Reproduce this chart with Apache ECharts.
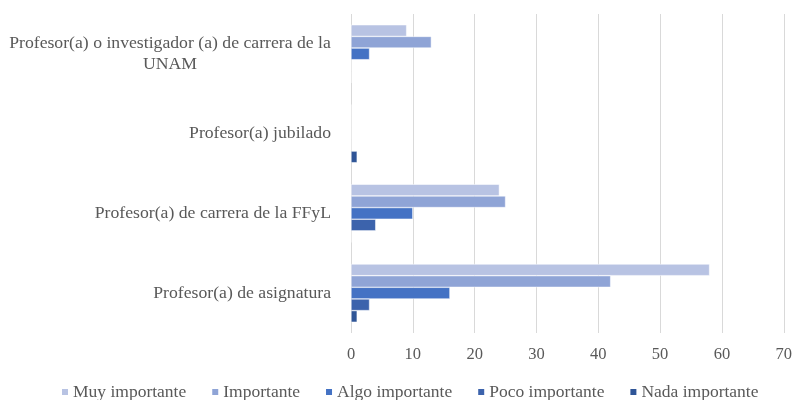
<!DOCTYPE html>
<html>
<head>
<meta charset="utf-8">
<script src="https://cdn.jsdelivr.net/npm/echarts@6/dist/echarts.min.js"></script>
<style>html,body{margin:0;padding:0;background:#fff}#c{width:795px;height:400px}</style>
</head>
<body>
<div id="c"></div>
<script>
// Categories listed top to bottom
const categories = [
  "Profesor(a) o investigador (a) de carrera de la UNAM",
  "Profesor(a) jubilado",
  "Profesor(a) de carrera de la FFyL",
  "Profesor(a) de asignatura"
];
const seriesNames = ["Muy importante", "Importante", "Algo importante", "Poco importante", "Nada importante"];
const muyImportante  = [9, 0, 24, 58];
const importante     = [13, 0, 25, 42];
const algoImportante = [3, 0, 10, 16];
const pocoImportante = [0, 0, 4, 3];
const nadaImportante = [0, 1, 0, 1];
const xTicks = [0, 10, 20, 30, 40, 50, 60, 70];

const values = [muyImportante, importante, algoImportante, pocoImportante, nadaImportante];
const colors = ["#b8c3e3", "#8fa4d6", "#4472c4", "#3c63ac", "#2f5597"];

const chart = echarts.init(document.getElementById('c'), null, {renderer: 'canvas'});
const font = "'Liberation Serif', 'Times New Roman', serif";
chart.setOption({
  animation: false,
  textStyle: {fontFamily: font},
  grid: {left: 351, right: 10, top: 14, bottom: 67},
  legend: {
    top: 383,
    left: 60,
    padding: 0,
    data: seriesNames,
    itemWidth: 8, itemHeight: 8, itemGap: 24,
    icon: 'rect',
    textStyle: {fontFamily: font, fontSize: 17.5, color: '#595959', padding: [0, 0, 0, -1]}
  },
  xAxis: {
    type: 'value',
    min: xTicks[0], max: xTicks[xTicks.length - 1], interval: 10,
    axisLine: {show: false}, axisTick: {show: false},
    splitLine: {lineStyle: {color: '#d9d9d9', width: 1}},
    axisLabel: {fontFamily: font, fontSize: 16.5, color: '#595959', margin: 13}
  },
  yAxis: {
    type: 'category',
    inverse: true,
    data: categories,
    axisLine: {show: false}, axisTick: {show: false},
    axisLabel: {
      fontFamily: font, fontSize: 17.7, color: '#595959', margin: 20,
      formatter: function (v) {
        if (v.indexOf('UNAM') >= 0) {
          return '{c|Profesor(a) o investigador (a) de carrera de la}\n{c|UNAM}';
        }
        return v;
      },
      rich: {c: {fontFamily: font, fontSize: 17.7, color: '#595959', width: 322, align: 'center', lineHeight: 21}}
    }
  },
  series: seriesNames.map((n, i) => ({
    name: n,
    type: 'bar',
    data: values[i],
    barCategoryGap: '27%',
    barGap: '0%',
    itemStyle: {color: colors[i], borderColor: '#ffffff', borderWidth: 0.5}
  }))
});
</script>
</body>
</html>
